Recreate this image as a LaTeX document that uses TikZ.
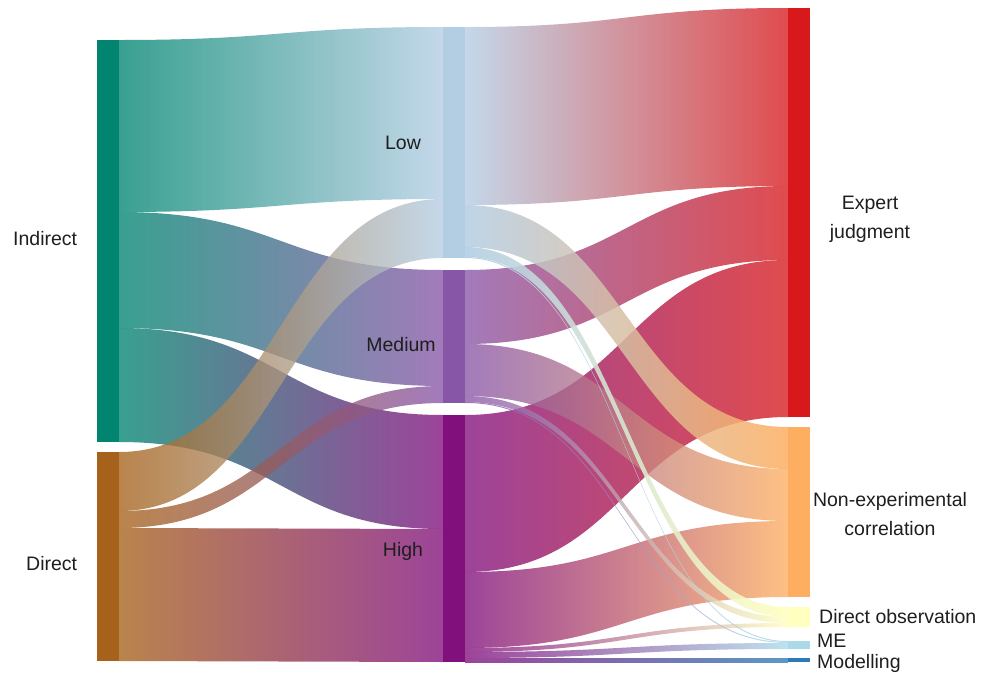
\documentclass[tikz,border=0pt]{standalone}
\usepackage{fontspec}
\setmainfont{Liberation Sans}

\definecolor{indirectc}{HTML}{018571}
\definecolor{directc}{HTML}{A6611A}
\definecolor{lowc}{HTML}{B3CDE3}
\definecolor{mediumc}{HTML}{8856A7}
\definecolor{highc}{HTML}{810F7C}
\definecolor{expertc}{HTML}{D7191C}
\definecolor{nonexpc}{HTML}{FDAE61}
\definecolor{directobsc}{HTML}{FFFFBF}
\definecolor{mec}{HTML}{ABD9E9}
\definecolor{modellingc}{HTML}{2C7BB6}
\definecolor{labgray}{HTML}{1E1E1E}

% source, top, bottom, target, top, bottom, source colour, target colour
\newcommand{\flow}[9][]{%
  \path (#2.east) -- coordinate (mid) (#5.west);
  \shade[link, left color=#8, right color=#9, #1]
    (#2.east |- 0,#3) .. controls (mid |- 0,#3) and (mid |- 0,#6) .. (#5.west |- 0,#6)
    -- (#5.west |- 0,#7) .. controls (mid |- 0,#7) and (mid |- 0,#4) .. (#2.east |- 0,#4) -- cycle;}

\begin{document}
\begin{tikzpicture}[x=1pt, y=-1pt,
    bar/.style={rectangle, inner sep=0pt, minimum width=22pt, draw=none},
    lab/.style={font=\fontsize{19.5}{29}\selectfont, text=labgray, inner sep=0pt},
    link/.style={fill opacity=0.78}
]
\useasboundingbox (0,0) rectangle (989,678);

% Bars
\node[bar, fill=indirectc, minimum height=402pt] (indirect) at (108,241) {};
\node[bar, fill=directc, minimum height=209pt] (direct) at (108,556.5) {};
\node[bar, fill=lowc, minimum height=231pt] (low) at (454,142.5) {};
\node[bar, fill=mediumc, minimum height=133pt] (medium) at (454,336.5) {};
\node[bar, fill=highc, minimum height=247pt] (high) at (454,538.5) {};
\node[bar, fill=expertc, minimum height=409pt] (expert) at (799,212.5) {};
\node[bar, fill=nonexpc, minimum height=170pt] (nonexp) at (799,512) {};
\node[bar, fill=directobsc, minimum height=20pt] (directobs) at (799,617) {};
\node[bar, fill=mec, minimum height=8pt] (me) at (799,645) {};
\node[bar, fill=modellingc, minimum height=4pt] (modelling) at (799,660) {};

% Flows into the middle
\flow{indirect}{40}{212}{low}{27}{199}{indirectc}{lowc}
\flow{indirect}{212}{328}{medium}{270}{386}{indirectc}{mediumc}
\flow{indirect}{328}{442}{high}{415}{529}{indirectc}{highc}
\flow{direct}{528}{661}{high}{529}{662}{directc}{highc}
\flow{direct}{511}{528}{medium}{386}{403}{directc}{mediumc}
\flow{direct}{452}{511}{low}{199}{258}{directc}{lowc}

% Flows out of the middle
\flow{high}{415}{572}{expert}{260}{417}{highc}{expertc}
\flow{high}{572}{648}{nonexp}{521}{597}{highc}{nonexpc}
\flow{high}{648}{652}{directobs}{623}{627}{highc}{directobsc}
\flow{high}{652}{658}{me}{643}{649}{highc}{mec}
\flow{high}{658}{662}{modelling}{658}{662}{highc}{modellingc}
\flow{medium}{270}{344}{expert}{186}{260}{mediumc}{expertc}
\flow{medium}{344}{396}{nonexp}{469}{521}{mediumc}{nonexpc}
\flow{medium}{396}{402}{directobs}{617}{623}{mediumc}{directobsc}
\flow{medium}{402}{403}{me}{642}{643}{mediumc}{mec}
\flow{low}{27}{205}{expert}{8}{186}{lowc}{expertc}
\flow[fill opacity=.85]{low}{205}{247}{nonexp}{427}{469}{lowc}{nonexpc}
\flow[fill opacity=.9]{low}{247}{257}{directobs}{607}{617}{lowc}{directobsc}
\flow[fill opacity=.9]{low}{257}{258}{me}{641}{642}{lowc}{mec}

% Labels
\node[lab, anchor=base west] (lindirect) at (13,245) {Indirect};
\node[lab, anchor=base west] (ldirect) at (26,570) {Direct};
\node[lab, anchor=base] (llow) at (403,149) {Low};
\node[lab, anchor=base] (lmedium) at (401,351) {Medium};
\node[lab, anchor=base] (lhigh) at (403,556) {High};
\node[lab, align=center] (lexpert) at (870,219) {Expert\\judgment};
\node[lab, align=center] (lnonexp) at (890,514) {Non-experimental\\correlation};
\node[lab, anchor=base west] (ldirectobs) at (819,623) {Direct observation};
\node[lab, anchor=base west] (lme) at (817,647) {ME};
\node[lab, anchor=base west] (lmodelling) at (817,668) {Modelling};
\end{tikzpicture}
\end{document}
